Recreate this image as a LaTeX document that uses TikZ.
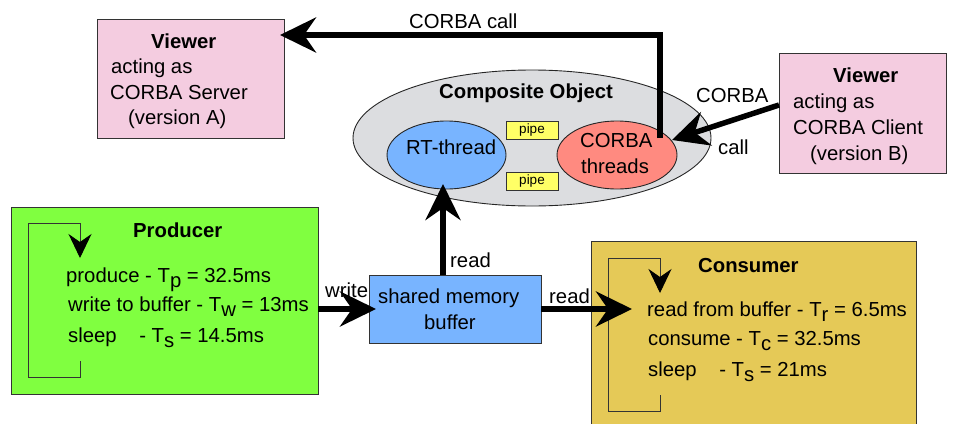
\documentclass[tikz,border=0pt]{standalone}
\usepackage{fontspec}
\setmainfont{Liberation Sans}
\usetikzlibrary{arrows.meta}
\newcommand\lowsub[1]{\raisebox{-5.5pt}{#1}}
\definecolor{cgreen}{HTML}{80FF40}
\definecolor{cblue}{HTML}{78B4FF}
\definecolor{cgold}{HTML}{E5C957}
\definecolor{cpink}{HTML}{F4CCE0}
\definecolor{cgray}{HTML}{DCDDE0}
\definecolor{cred}{HTML}{FF8A80}
\definecolor{cyel}{HTML}{FFFF66}
\definecolor{cedge}{HTML}{333333}
\tikzset{
  shapebox/.style={draw=cedge,line width=0.9pt,inner sep=0pt,rectangle},
  pipebox/.style={shapebox,fill=cyel,minimum width=52pt,minimum height=18pt,font=\fontsize{13.5}{15}\selectfont},
  txt/.style={anchor=base west,inner sep=0pt,font=\fontsize{20.3}{24}\selectfont},
  ttl/.style={txt,font=\fontsize{20.3}{24}\selectfont\bfseries},
  bigarrow/.style={line width=5.5pt,black,-{Stealth[length=36pt,width=35pt,inset=12pt]}},
  looparrow/.style={line width=0.9pt,cedge,-{Stealth[length=24pt,width=23pt,inset=8pt,black]}}
}
\begin{document}
\begin{tikzpicture}[x=1pt,y=-1pt]
\useasboundingbox (0,0) rectangle (955,423);
\clip (0,0) rectangle (955,423);
% boxes
\node[shapebox,fill=cpink,minimum width=187pt,minimum height=119pt] (va) at (190.5,78.5) {};
\node[shapebox,fill=cpink,minimum width=167pt,minimum height=120pt] (vb) at (862.5,113) {};
\node[shapebox,fill=cgreen,minimum width=307pt,minimum height=187pt] (prod) at (164.5,300.5) {};
\node[shapebox,fill=cgold,minimum width=325pt,minimum height=200pt] (cons) at (753.5,341) {};
\node[shapebox,fill=cblue,minimum width=172pt,minimum height=68pt] (buf) at (455,309) {};
% ellipses
\draw[draw=black!85,line width=0.9pt,fill=cgray] (532,138) ellipse [x radius=179,y radius=68];
\coordinate (comp) at (532,138);
\draw[draw=black!85,line width=0.9pt,fill=cblue] (446.5,155) ellipse [x radius=59.5,y radius=34];
\coordinate (rt) at (446.5,155);
\draw[draw=black!85,line width=0.9pt,fill=cred] (617,155) ellipse [x radius=60,y radius=34];
\coordinate (cth) at (617,155);
\node[pipebox] (p1) at (532,130) {pipe};
\node[pipebox] (p2) at (532,181.5) {pipe};
% texts
\node[ttl] (t1) at (151,48) {Viewer};
\node[txt] (t2) at (111,73) {acting as};
\node[txt] (t3) at (110,99) {CORBA Server};
\node[txt] (t4) at (128,124) {(version A)};
\node[ttl] (t5) at (833,82) {Viewer};
\node[txt] (t6) at (793,108) {acting as};
\node[txt] (t7) at (793,134) {CORBA Client};
\node[txt] (t8) at (810,160) {(version B)};
\node[ttl] (t9) at (439,98) {Composite Object};
\node[txt] (t10) at (406,154) {RT-thread};
\node[txt] (t11) at (580,147) {CORBA};
\node[txt] (t12) at (581,173) {threads};
\node[txt] (t13) at (409,28) {CORBA call};
\node[txt] (t14) at (696,102) {CORBA};
\node[txt] (t15) at (718,154) {call};
\node[txt] (t16) at (325,297) {write};
\node[txt] (t17) at (450,267) {read};
\node[txt] (t18) at (549,303) {read};
\node[txt] (t19) at (378,303) {shared memory};
\node[txt] (t20) at (424,329) {buffer};
\node[ttl] (t21) at (133,237) {Producer};
\node[txt] (t22) at (66,282) {produce - T\lowsub{p} = 32.5ms};
\node[txt] (t23) at (68,311) {write to buffer - T\lowsub{w} = 13ms};
\node[txt] (t24) at (68,342) {sleep\ \ \ \ - T\lowsub{s} = 14.5ms};
\node[ttl] (t25) at (698,272) {Consumer};
\node[txt] (t26) at (647,316) {read from buffer - T\lowsub{r} = 6.5ms};
\node[txt] (t27) at (648,345) {consume - T\lowsub{c} = 32.5ms};
\node[txt] (t28) at (648,376) {sleep\ \ \ \ - T\lowsub{s} = 21ms};
% loop arrows
\coordinate (pl0) at (80,361);
\coordinate (pl1) at (80,258);
\draw[looparrow] (pl0) -- (80,377) -- (28,377) -- (28,223) -- (80,223) -- (pl1);
\coordinate (cl0) at (660,395);
\coordinate (cl1) at (660,293);
\draw[looparrow] (cl0) -- (660,411) -- (608,411) -- (608,258) -- (660,258) -- (cl1);
% big arrows
\coordinate (wtip) at (376,309);
\draw[bigarrow] (prod.east |- wtip) -- (wtip);
\coordinate (rtip) at (632,309);
\draw[bigarrow] (buf.east |- rtip) -- (rtip);
\coordinate (utip) at (443,184);
\draw[bigarrow] (utip |- buf.north) -- (utip);
\coordinate (cstart) at (660,138);
\coordinate (ctip) at (280,35);
\draw[bigarrow] (cstart) -- (cstart |- ctip) -- (ctip);
\coordinate (bstart) at (779,105);
\coordinate (btip) at (672,140);
\draw[bigarrow] (bstart) -- (btip);
\end{tikzpicture}
\end{document}
